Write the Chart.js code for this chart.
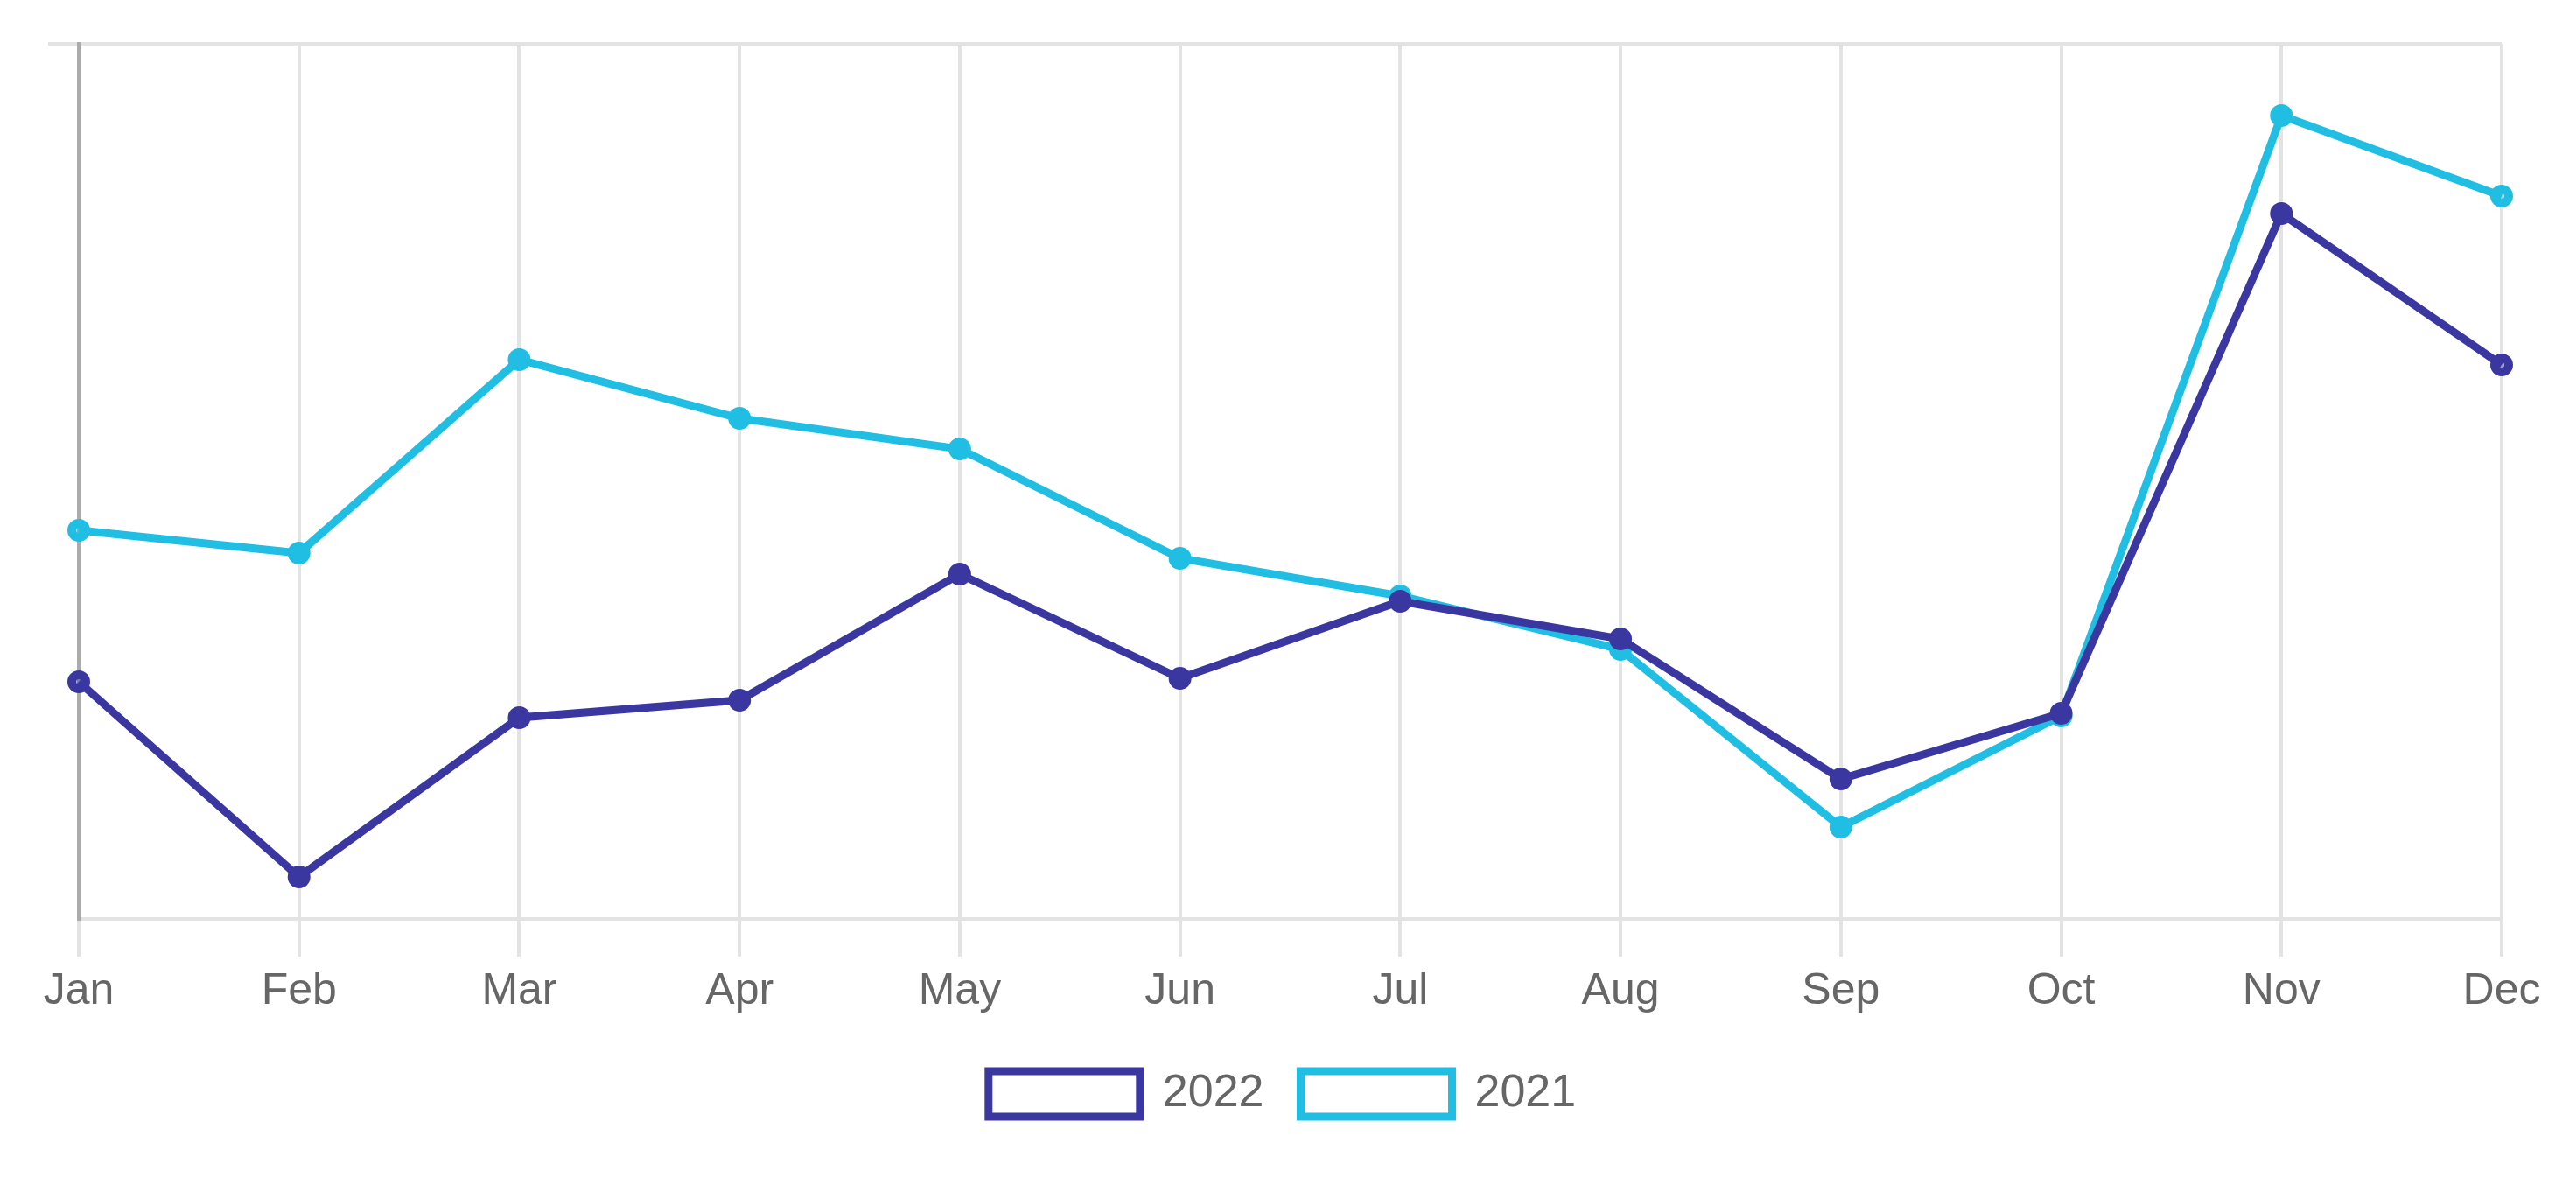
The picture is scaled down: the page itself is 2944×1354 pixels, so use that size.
<!DOCTYPE html>
<html>
<head>
<meta charset="utf-8">
<script src="https://cdn.jsdelivr.net/npm/chart.js@4"></script>
<style>
  html, body { margin: 0; padding: 0; background: #ffffff; }
  #wrap { width: 2944px; height: 1354px; position: relative; }
</style>
</head>
<body>
<div id="wrap"><canvas id="c" width="2944" height="1354"></canvas></div>
<script>
const categories = ['Jan', 'Feb', 'Mar', 'Apr', 'May', 'Jun', 'Jul', 'Aug', 'Sep', 'Oct', 'Nov', 'Dec'];
const series2022 = [27.1, 4.8, 23.0, 25.0, 39.4, 27.5, 36.3, 32.0, 16.0, 23.5, 80.6, 63.3];
const series2021 = [44.4, 41.8, 63.9, 57.2, 53.7, 41.2, 36.9, 30.8, 10.5, 23.2, 91.8, 82.6];
const seriesLabels = ['2022', '2021'];
const yRange = [0, 100];

const DARK = '#3a37a0';
const CYAN = '#20bee3';
const GRID = '#e3e3e3';
const FONT = "'Liberation Sans', Arial, Helvetica, sans-serif";

new Chart(document.getElementById('c'), {
  type: 'line',
  data: {
    labels: categories,
    datasets: [
      {
        label: seriesLabels[0],
        data: series2022,
        borderColor: DARK,
        backgroundColor: '#ffffff',
        borderWidth: 9,
        pointRadius: 8,
        pointBorderWidth: 10,
        pointBorderColor: DARK,
        pointBackgroundColor: 'rgba(58,55,160,0.4)',
        tension: 0,
        fill: false
      },
      {
        label: seriesLabels[1],
        data: series2021,
        borderColor: CYAN,
        backgroundColor: '#ffffff',
        borderWidth: 9,
        pointRadius: 8,
        pointBorderWidth: 10,
        pointBorderColor: CYAN,
        pointBackgroundColor: 'rgba(32,190,227,0.4)',
        tension: 0,
        fill: false
      }
    ]
  },
  options: {
    responsive: false,
    animation: false,
    devicePixelRatio: 1,
    layout: { padding: { left: 55, right: 68, top: 50, bottom: 68 } },
    plugins: {
      legend: {
        display: true,
        position: 'bottom',
        labels: {
          boxWidth: 173,
          boxHeight: 52,
          padding: 42,
          color: '#666666',
          font: { family: FONT, size: 52 }
        }
      },
      tooltip: { enabled: false },
      title: { display: false }
    },
    scales: {
      x: {
        grid: {
          color: GRID,
          lineWidth: 4,
          drawTicks: true,
          tickLength: 43,
          tickColor: GRID
        },
        border: { display: true, color: GRID, width: 4 },
        ticks: {
          color: '#666666',
          padding: 10,
          font: { family: FONT, size: 50 },
          maxRotation: 0,
          autoSkip: false
        },
        afterFit: function (scale) { scale.height += 9; }
      },
      y: {
        min: yRange[0],
        max: yRange[1],
        ticks: { display: false, stepSize: 100 },
        grid: {
          color: function (ctx) { return ctx.tick && ctx.tick.value === yRange[1] ? GRID : 'rgba(0,0,0,0)'; },
          lineWidth: 4,
          drawTicks: true,
          tickLength: 35
        },
        border: { display: true, color: '#ababab', width: 4 }
      },
      yRightGap: {
        position: 'right',
        display: true,
        min: yRange[0],
        max: yRange[1],
        ticks: { display: false },
        grid: { display: false, drawTicks: false },
        border: { display: false },
        afterFit: function (scale) { scale.width = 17; }
      }
    }
  }
});
</script>
</body>
</html>
